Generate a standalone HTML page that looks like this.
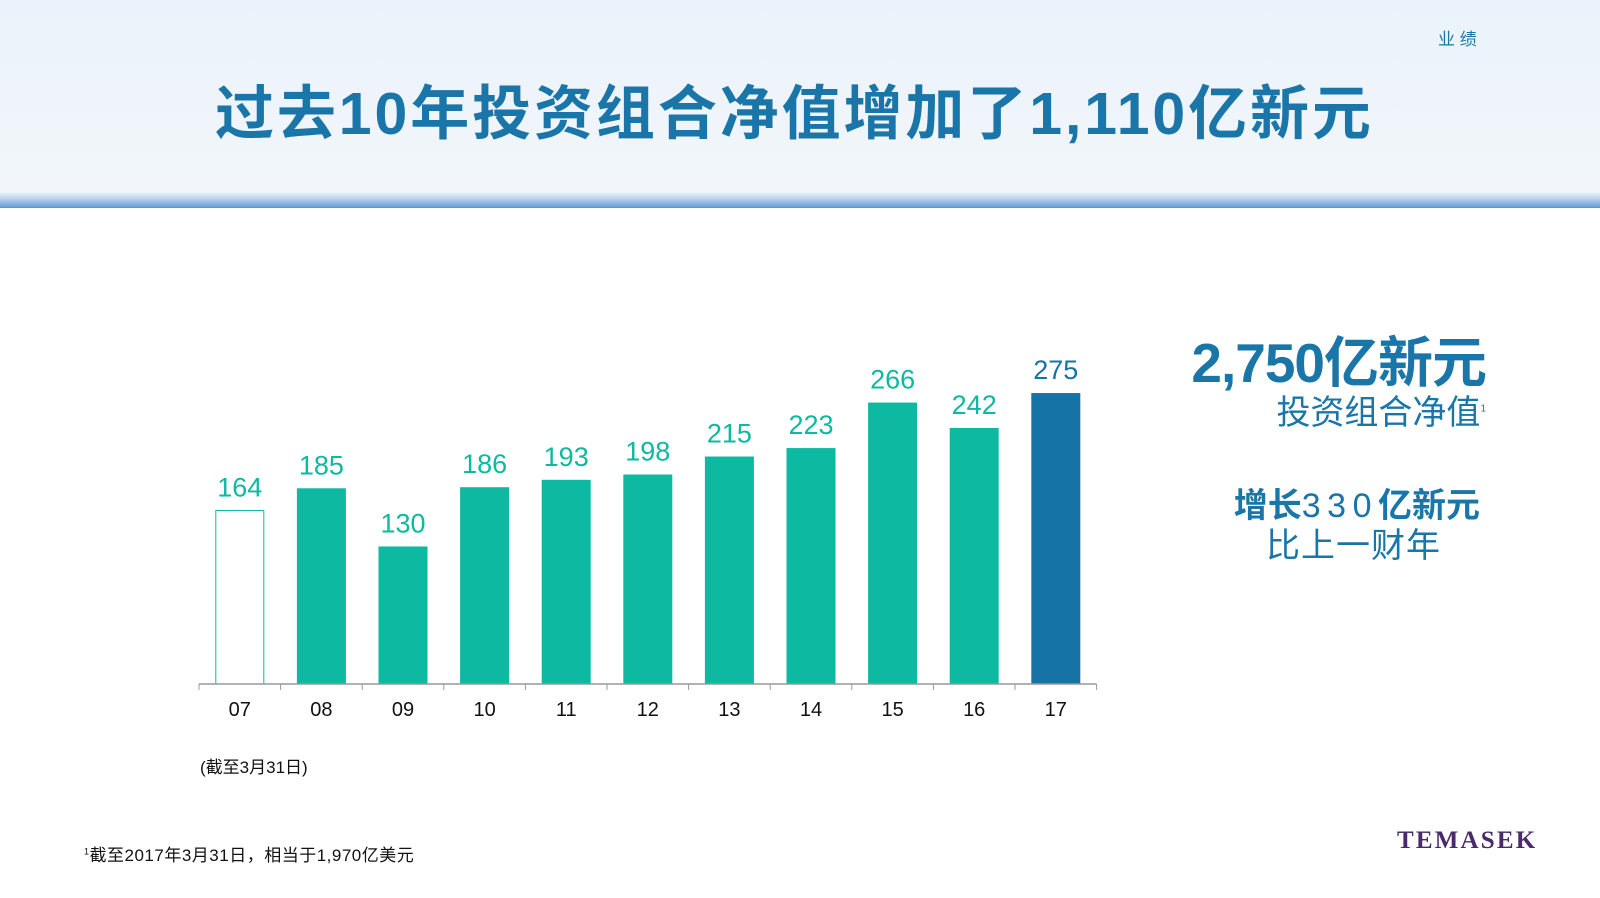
<!DOCTYPE html>
<html><head><meta charset="utf-8"><style>
body{margin:0;width:1600px;height:898px;position:relative;background:#fff;overflow:hidden;font-family:"Liberation Sans","Noto Sans CJK SC",sans-serif}
.hdr{position:absolute;left:0;top:0;width:1600px;height:192px;background:linear-gradient(#eaf3fb,#f2f6fa)}
.band{position:absolute;left:0;top:192px;width:1600px;height:16px;background:linear-gradient(#eef4fa,#bcd4ee 40%,#6fa2d8 90%,#5f8fc0)}
.t{position:absolute;color:#1a75a8;white-space:nowrap}
</style></head><body>
<div class="hdr"></div>
<div class="band"></div>
<div class="t" style="left:1438px;top:25px;font-size:17px">业 绩</div>
<div class="t" style="left:215px;top:66px;font-size:59px;font-weight:bold;letter-spacing:2.9px">过去10年投资组合净值增加了1,110亿新元</div>
<svg width="1600" height="898" style="position:absolute;left:0;top:0">
<g id="g"></g></svg>
<div class="t" style="right:114px;top:318px;font-size:55px;font-weight:bold;letter-spacing:-1px">2,750亿新元</div>
<div class="t" style="right:114px;top:385px;font-size:34px">投资组合净值<sup style="font-size:10px">1</sup></div>
<div class="t" style="right:120px;top:478px;font-size:34px;font-weight:bold">增长<span style="font-weight:normal;letter-spacing:6.5px">330</span>亿新元</div>
<div class="t" style="left:1266px;top:518px;font-size:34px;letter-spacing:1px">比上一财年</div>
<div class="t" style="left:200px;top:753px;font-size:17px;color:#111">(截至3月31日)</div>
<div class="t" style="left:84px;top:841px;font-size:17px;color:#111;letter-spacing:0.5px"><sup style="font-size:9px">1</sup>截至2017年3月31日，相当于1,970亿美元</div>
<div class="t" style="left:1397px;top:827px;font-size:25px;font-weight:bold;color:#4a2a6a;font-family:'Liberation Serif',serif;letter-spacing:2.2px">TEMASEK</div>
<script>
const categories=["07","08","09","10","11","12","13","14","15","16","17"];
const values=[164,185,130,186,193,198,215,223,266,242,275];
const g=document.getElementById('g');const NS='http://www.w3.org/2000/svg';
const x0=199,step=81.6,base=684,scale=1.058,bw=49;
const xs=i=>x0+step*i+step/2, ys=v=>base-v*scale;
function mk(t,a){const e=document.createElementNS(NS,t);for(const k in a)e.setAttribute(k,a[k]);g.appendChild(e);return e;}
categories.forEach((c,i)=>{
 const v=values[i],first=i===0,last=i===categories.length-1;
 const r=mk('rect',{x:xs(i)-bw/2+(first?.5:0),y:ys(v),width:bw-(first?1:0),height:v*scale,fill:first?'#fff':(last?'#1673a5':'#0db9a1'),stroke:first?'#0db9a1':'none','stroke-width':1});
 
 
 const l=mk('text',{x:xs(i),y:ys(v)-14,'text-anchor':'middle','font-size':27,fill:last?'#1673a5':'#0db9a1','font-family':'Liberation Sans,sans-serif'});l.textContent=v;
 
 
 const t=mk('text',{x:xs(i),y:base+32,'text-anchor':'middle','font-size':20,fill:'#111','font-family':'Liberation Sans,sans-serif'});t.textContent=c;
 
 
});
const ax=mk('line',{x1:x0,x2:x0+step*categories.length,y1:base,y2:base,stroke:'#999','stroke-width':1.5});


for(let i=0;i<=categories.length;i++){const tk=mk('line',{x1:x0+step*i,x2:x0+step*i,y1:base,y2:base+6,stroke:'#999'});

}
</script>
</body></html>
